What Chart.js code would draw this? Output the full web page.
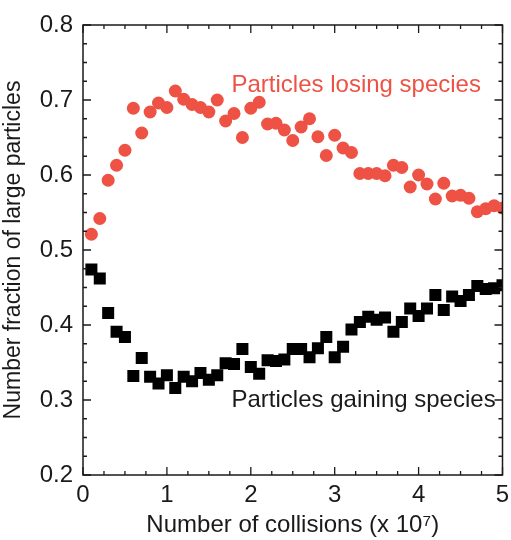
<!DOCTYPE html>
<html>
<head>
<meta charset="utf-8">
<script src="https://cdn.jsdelivr.net/npm/chart.js@4.4.1/dist/chart.umd.min.js"></script>
<style>
    html, body { margin: 0; padding: 0; background: #ffffff; }
    #wrap { width: 511px; height: 540px; }
</style>
</head>
<body>
<div id="wrap"><canvas id="fractionChart" width="511" height="540"></canvas></div>
<script>
// collisions (x 10^7)
const collisions = [
    0.1, 0.2, 0.3, 0.4, 0.5, 0.6, 0.7, 0.8, 0.9, 1.0,
    1.1, 1.2, 1.3, 1.4, 1.5, 1.6, 1.7, 1.8, 1.9, 2.0,
    2.1, 2.2, 2.3, 2.4, 2.5, 2.6, 2.7, 2.8, 2.9, 3.0,
    3.1, 3.2, 3.3, 3.4, 3.5, 3.6, 3.7, 3.8, 3.9, 4.0,
    4.1, 4.2, 4.3, 4.4, 4.5, 4.6, 4.7, 4.8, 4.9, 5.0
];

// particles losing species (red circles)
const losingValues = [
    0.521, 0.542, 0.593, 0.613, 0.633, 0.689, 0.656, 0.684, 0.696, 0.690,
    0.712, 0.701, 0.694, 0.690, 0.684, 0.700, 0.672, 0.682, 0.650, 0.689,
    0.697, 0.668, 0.669, 0.660, 0.646, 0.664, 0.675, 0.651, 0.626, 0.653,
    0.636, 0.630, 0.602, 0.602, 0.602, 0.599, 0.613, 0.610, 0.584, 0.600,
    0.588, 0.568, 0.589, 0.572, 0.573, 0.569, 0.551, 0.555, 0.559, 0.556
];

// particles gaining species (black squares)
const gainingValues = [
    0.474, 0.462, 0.416, 0.391, 0.384, 0.332, 0.356, 0.331, 0.322, 0.333,
    0.316, 0.331, 0.325, 0.336, 0.327, 0.333, 0.349, 0.348, 0.368, 0.344,
    0.335, 0.353, 0.352, 0.354, 0.368, 0.368, 0.357, 0.369, 0.384, 0.357,
    0.371, 0.394, 0.404, 0.411, 0.407, 0.410, 0.391, 0.404, 0.422, 0.412,
    0.422, 0.440, 0.420, 0.438, 0.432, 0.440, 0.452, 0.448, 0.449, 0.453
];

const xTickLabels = [0, 1, 2, 3, 4, 5];
const yTickLabels = [0.2, 0.3, 0.4, 0.5, 0.6, 0.7, 0.8];

const RED = 'rgb(238, 82, 68)';
const INK = '#1a1a1a';
const FONT = '"Liberation Sans", Arial, sans-serif';

function toPoints(values) {
    return collisions.map((x, i) => ({ x: x, y: values[i] }));
}

// frame, inward ticks and the two labels
const framePlugin = {
    id: 'frame',
    afterDraw(chart) {
        const ctx = chart.ctx;
        const area = chart.chartArea;
        const xs = chart.scales.x;
        const ys = chart.scales.y;

        ctx.save();
        ctx.strokeStyle = INK;
        ctx.lineWidth = 1.5;
        ctx.strokeRect(area.left, area.top, area.right - area.left, area.bottom - area.top);

        ctx.lineWidth = 1.3;
        ctx.beginPath();
        for (let i = 0; i <= 20; i++) {
            const px = xs.getPixelForValue(i * 0.25);
            const len = (i % 4 === 0) ? 8 : 4;
            ctx.moveTo(px, area.bottom); ctx.lineTo(px, area.bottom - len);
            ctx.moveTo(px, area.top); ctx.lineTo(px, area.top + len);
        }
        for (let i = 0; i <= 24; i++) {
            const py = ys.getPixelForValue(0.2 + i * 0.025);
            const len = (i % 4 === 0) ? 8 : 4;
            ctx.moveTo(area.left, py); ctx.lineTo(area.left + len, py);
            ctx.moveTo(area.right, py); ctx.lineTo(area.right - len, py);
        }
        ctx.stroke();

        ctx.font = '24px ' + FONT;
        ctx.textBaseline = 'middle';
        ctx.textAlign = 'left';
        ctx.fillStyle = RED;
        ctx.fillText('Particles losing species', xs.getPixelForValue(1.77), ys.getPixelForValue(0.72));
        ctx.fillStyle = INK;
        ctx.fillText('Particles gaining species', xs.getPixelForValue(1.77), ys.getPixelForValue(0.30));
        ctx.restore();
    }
};

function createChart() {
    const ctx = document.getElementById('fractionChart').getContext('2d');

    new Chart(ctx, {
        type: 'scatter',
        data: {
            datasets: [
                {
                    label: 'Particles losing species',
                    data: toPoints(losingValues),
                    pointStyle: 'circle',
                    pointRadius: 6.5,
                    backgroundColor: RED,
                    borderColor: RED,
                    borderWidth: 0
                },
                {
                    label: 'Particles gaining species',
                    data: toPoints(gainingValues),
                    pointStyle: 'rect',
                    pointRadius: 8.5,
                    backgroundColor: '#000000',
                    borderColor: '#000000',
                    borderWidth: 0
                }
            ]
        },
        options: {
            responsive: false,
            animation: false,
            layout: { padding: { top: 25, right: 7, left: 0, bottom: 0 } },
            plugins: {
                legend: { display: false },
                tooltip: { enabled: false }
            },
            scales: {
                x: {
                    type: 'linear',
                    min: 0,
                    max: 5,
                    afterBuildTicks(scale) {
                        scale.ticks = xTickLabels.map(v => ({ value: v }));
                    },
                    afterFit(scale) {
                        scale.height = 65;
                        scale.paddingLeft = 0;
                        scale.paddingRight = 0;
                    },
                    grid: { display: false, drawTicks: false },
                    border: { display: false },
                    ticks: {
                        padding: 6,
                        color: INK,
                        font: { family: FONT, size: 24 },
                        callback: v => String(v)
                    },
                    title: {
                        display: true,
                        text: 'Number of collisions (x 10⁷)',
                        color: INK,
                        font: { family: FONT, size: 24 },
                        padding: { top: 0, bottom: 0 }
                    }
                },
                y: {
                    type: 'linear',
                    min: 0.2,
                    max: 0.8,
                    afterBuildTicks(scale) {
                        scale.ticks = yTickLabels.map(v => ({ value: v }));
                    },
                    afterFit(scale) {
                        scale.width = 83;
                        scale.paddingTop = 0;
                        scale.paddingBottom = 0;
                    },
                    grid: { display: false, drawTicks: false },
                    border: { display: false },
                    ticks: {
                        padding: 10,
                        color: INK,
                        font: { family: FONT, size: 24 },
                        callback: v => v.toFixed(1)
                    },
                    title: {
                        display: true,
                        text: 'Number fraction of large particles',
                        color: INK,
                        font: { family: FONT, size: 23 },
                        padding: { top: 0, bottom: 2 }
                    }
                }
            }
        },
        plugins: [framePlugin]
    });
}

document.addEventListener('DOMContentLoaded', createChart);
</script>
</body>
</html>
